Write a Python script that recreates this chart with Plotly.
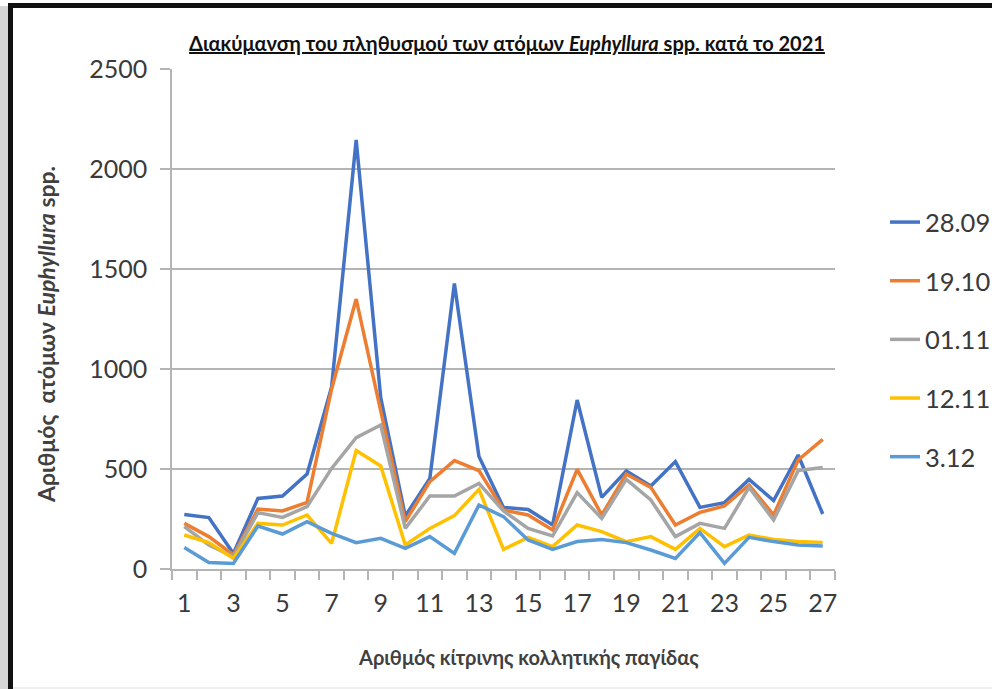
import plotly.graph_objects as go

traps = list(range(1, 28))
tick_labels = [str(v) for v in range(1, 28, 2)]
series_names = ["28.09", "19.10", "01.11", "12.11", "3.12"]

s_2809 = [273, 257, 78, 353, 365, 475, 910, 2145, 857, 265, 453, 1428, 562, 308, 298,
          220, 845, 358, 490, 415, 537, 308, 332, 448, 342, 570, 275]
s_1910 = [228, 162, 70, 300, 290, 333, 900, 1350, 790, 237, 437, 542, 492, 295, 270,
          195, 498, 270, 475, 408, 220, 283, 315, 420, 270, 545, 648]
s_0111 = [212, 120, 62, 282, 258, 312, 503, 657, 720, 203, 365, 365, 428, 290, 203,
          165, 382, 253, 448, 345, 162, 228, 203, 408, 245, 492, 507]
s_1211 = [170, 132, 53, 228, 220, 270, 128, 592, 515, 120, 203, 267, 398, 98, 158,
          112, 220, 187, 137, 162, 98, 203, 112, 170, 148, 137, 132]
s_0312 = [107, 33, 28, 215, 175, 237, 178, 132, 153, 103, 162, 78, 320, 262, 145,
          98, 137, 148, 132, 95, 53, 182, 28, 158, 137, 120, 115]

all_series = [s_2809, s_1910, s_0111, s_1211, s_0312]
colors = ["#4472C4", "#ED7D31", "#A5A5A5", "#FFC000", "#5B9BD5"]

W, H = 992, 689
L, R, T, B = 172, 157, 69, 120
PW, PH = W - L - R, H - T - B


def px2x(px):
    return (px - L) / PW


def py2y(py):
    return (H - B - py) / PH


fig = go.Figure()
for name, vals, col in zip(series_names, all_series, colors):
    fig.add_trace(go.Scatter(x=traps, y=vals, mode="lines", name=name,
                             legendgroup=name,
                             line=dict(color=col, width=3.5)))

grid_col = "#B4B4B4"
text_col = "#3A3A3A"

frame_shapes = [
    dict(type="rect", xref="paper", yref="paper",
         x0=px2x(0), x1=px2x(8), y0=py2y(689), y1=py2y(6),
         fillcolor="#D6D6D6", line=dict(width=0), layer="above"),
    dict(type="rect", xref="paper", yref="paper",
         x0=px2x(8), x1=px2x(13), y0=py2y(689), y1=py2y(3),
         fillcolor="#111111", line=dict(width=0), layer="above"),
    dict(type="rect", xref="paper", yref="paper",
         x0=px2x(8), x1=px2x(992), y0=py2y(8), y1=py2y(3),
         fillcolor="#111111", line=dict(width=0), layer="below"),
    dict(type="rect", xref="paper", yref="paper",
         x0=px2x(8), x1=px2x(992), y0=py2y(8), y1=py2y(3),
         fillcolor="#111111", line=dict(width=0), layer="above"),
    dict(type="line", xref="paper", yref="paper",
         x0=px2x(13), x1=px2x(992), y0=py2y(688), y1=py2y(688),
         line=dict(color="#E0E0E0", width=1), layer="above"),
]

fig.update_layout(
    width=W, height=H,
    margin=dict(l=L, r=R, t=T, b=B, autoexpand=False),
    paper_bgcolor="white", plot_bgcolor="white",
    font=dict(family="Lato, Open Sans, sans-serif", color=text_col),
    title=dict(
        text="<b><u>Διακύμανση του πληθυσμού των ατόμων <i>Euphyllura</i> spp. κατά το 2021</u></b>",
        x=px2x(507), xref="paper", xanchor="center",
        y=1 - 44 / H, yref="container", yanchor="middle",
        font=dict(size=20, color="#111111", family="Lato, sans-serif")),
    showlegend=True,
    legend=dict(x=px2x(885), xanchor="left", y=py2y(199), yanchor="top",
                font=dict(size=25.5, color=text_col), tracegroupgap=22.5,
                bgcolor="rgba(0,0,0,0)"),
    xaxis=dict(range=[0.5, 27.5], tickmode="array",
               tickvals=list(range(1, 28, 2)), ticktext=tick_labels,
               ticks="", showgrid=False, showline=True, linecolor=grid_col,
               linewidth=1.5, zeroline=False,
               tickfont=dict(size=25, color=text_col),
               ticklabelstandoff=11,
               minor=dict(tickmode="linear", tick0=0.5, dtick=1, ticks="outside",
                          ticklen=9, tickcolor=grid_col, tickwidth=1.5, showgrid=False)),
    yaxis=dict(range=[0, 2500], tickmode="linear", tick0=0, dtick=500,
               showgrid=True, gridcolor=grid_col, gridwidth=1.5,
               showline=True, linecolor=grid_col, linewidth=1.5, zeroline=False,
               ticks="outside", ticklen=10, tickcolor=grid_col, tickwidth=1.5,
               tickfont=dict(size=25, color=text_col), ticklabelstandoff=8),
    annotations=[
        dict(text="<b>Αριθμός κίτρινης κολλητικής παγίδας</b>",
             xref="paper", yref="paper", x=px2x(528), y=py2y(657),
             xanchor="center", yanchor="middle", showarrow=False,
             font=dict(size=20, color="#404040")),
        dict(text="<b>Αριθμός  ατόμων <i>Euphyllura</i> spp.</b>",
             xref="paper", yref="paper", x=px2x(46), y=py2y(335),
             xanchor="center", yanchor="middle", showarrow=False, textangle=-90,
             font=dict(size=23, color="#404040")),
    ],
    shapes=frame_shapes,
)

fig.write_html("out.html", config={"displayModeBar": False},
               post_script="document.body.style.margin='0';document.body.style.overflow='hidden';")
